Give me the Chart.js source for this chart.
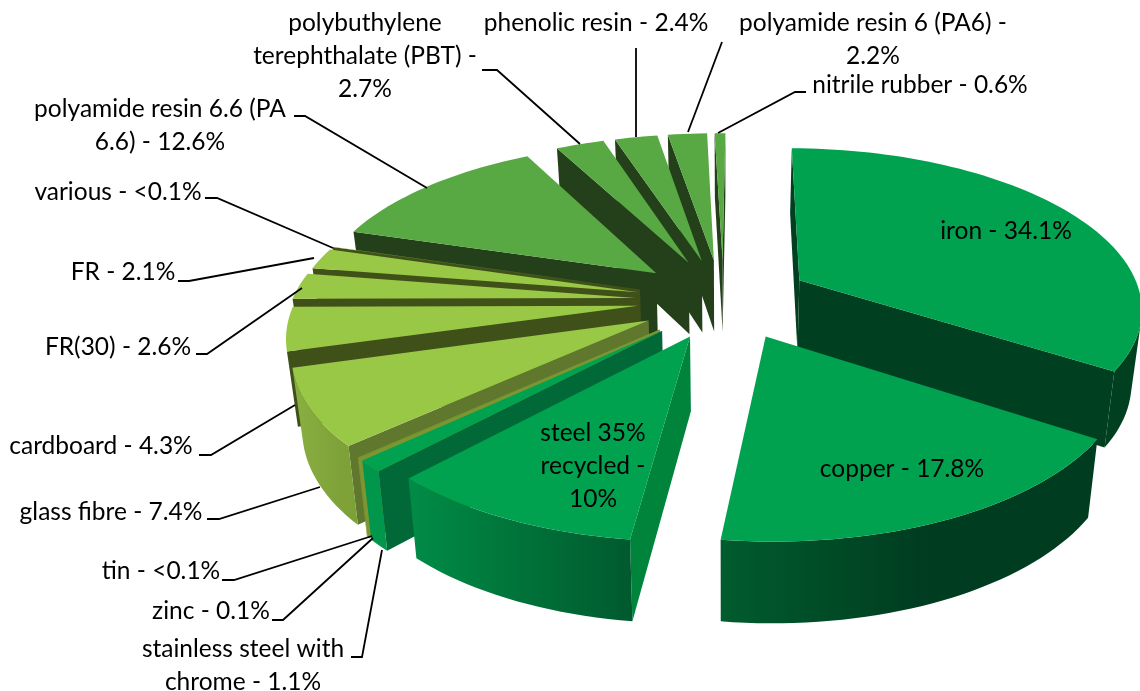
<!DOCTYPE html>
<html>
<head>
<meta charset="utf-8">
<title>materials</title>
<script src="https://cdn.jsdelivr.net/npm/chart.js@4"></script>
<style>
  html, body { margin: 0; padding: 0; background: #fff; }
  #wrap { width: 1140px; height: 691px; overflow: hidden; }
</style>
</head>
<body>
<div id="wrap"><canvas id="pie3d"></canvas></div>
<script>
// data, clockwise from the top. "<0.1" slices are drawn as 0.05
const materials = ['iron', 'copper', 'steel 35% recycled', 'stainless steel with chrome', 'zinc', 'tin',
  'glass fibre', 'cardboard', 'FR(30)', 'FR', 'various', 'polyamide resin 6.6 (PA 6.6)',
  'polybuthylene terephthalate (PBT)', 'phenolic resin', 'polyamide resin 6 (PA6)', 'nitrile rubber'];
const shares = [34.1, 17.8, 10, 1.1, 0.1, 0.05, 7.4, 4.3, 2.6, 2.1, 0.05, 12.6, 2.7, 2.4, 2.2, 0.6];

// explosion of each slice
const explode = [66, 64, 64, 66, 66, 66, 68, 66, 66, 66, 66, 66, 64, 64, 64, 64];
const nudgeU = [0, 0.012, 0.005, 0, 0, 0, 0.008, -0.003, -0.012, -0.01, -0.01, -0.012, -0.015, -0.012, -0.01, -0.005];
const nudgeV = [0.01, 0.02, 0.02, 0.03, 0.03, 0.03, 0.02, 0.02, 0.025, 0.025, 0.025, 0.005, 0, 0, 0, 0];

// colours
const GREEN = 'rgb(0,162,80)', MOSS = 'rgb(88,168,67)', LIME = 'rgb(153,200,70)';
const topColors = [GREEN, GREEN, GREEN, GREEN, 'rgb(125,150,50)', 'rgb(125,150,50)', LIME, LIME, LIME, LIME, LIME, MOSS, MOSS, MOSS, MOSS, MOSS];
const cutColors = ['rgb(0,64,32)', 'rgb(0,64,32)', 'rgb(0,132,60)', 'rgb(0,105,55)', 'rgb(125,150,50)', 'rgb(125,150,50)',
  'rgb(95,120,45)', 'rgb(64,80,25)', 'rgb(64,80,25)', 'rgb(64,80,25)', 'rgb(64,80,25)',
  'rgb(36,64,26)', 'rgb(36,64,26)', 'rgb(36,64,26)', 'rgb(36,64,26)', 'rgb(36,64,26)'];
// outer wall colour, right end and left end of what can be seen, and where the change starts
const wallFrom = ['rgb(0,64,32)', 'rgb(0,60,32)', 'rgb(0,90,46)', 'rgb(0,150,75)', 'rgb(125,150,50)', 'rgb(125,150,50)', 'rgb(125,160,55)', 'rgb(64,80,25)', 'rgb(64,80,25)', 'rgb(64,80,25)', 'rgb(64,80,25)', 'rgb(36,64,26)', 'rgb(36,64,26)', 'rgb(36,64,26)', 'rgb(36,64,26)', 'rgb(36,64,26)'];
const wallTo = ['rgb(0,64,32)', 'rgb(0,92,46)', 'rgb(0,140,70)', 'rgb(0,150,75)', 'rgb(125,150,50)', 'rgb(125,150,50)', 'rgb(138,175,65)', 'rgb(64,80,25)', 'rgb(64,80,25)', 'rgb(64,80,25)', 'rgb(64,80,25)', 'rgb(36,64,26)', 'rgb(36,64,26)', 'rgb(36,64,26)', 'rgb(36,64,26)', 'rgb(36,64,26)'];
const wallHold = [0, 0.45, 0, 0, 0, 0, 0, 0, 0, 0, 0, 0, 0, 0, 0, 0];

// labels: text lines, centre x, y of first line
const labelLines = [
  [['polybuthylene', 'terephthalate (PBT) -', '2.7%'], 365, 23],
  [['phenolic resin - 2.4%'], 596, 23],
  [['polyamide resin 6 (PA6) -', '2.2%'], 873, 23],
  [['nitrile rubber - 0.6%'], 920, 85],
  [['polyamide resin 6.6 (PA', '6.6) - 12.6%'], 160, 109],
  [['various - <0.1%'], 118, 192],
  [['FR - 2.1%'], 123, 272],
  [['FR(30) - 2.6%'], 118, 347],
  [['cardboard - 4.3%'], 101, 446],
  [['glass fibre - 7.4%'], 111, 512],
  [['tin - <0.1%'], 161, 571],
  [['zinc - 0.1%'], 211, 611],
  [['stainless steel with', 'chrome - 1.1%'], 243, 649],
  [['iron - 34.1%'], 1006, 231],
  [['copper - 17.8%'], 902, 469],
  [['steel 35%', 'recycled -', '10%'], 593, 433]
];
const leaders = [
  [[482,70], [497,70], [580,144]],
  [[636,48], [636,137]],
  [[722,42], [688,132]],
  [[806,92], [795,92], [718,133]],
  [[294,116], [305,116], [427,188]],
  [[205,198], [217,198], [333,248]],
  [[178,281], [189,281], [314,258]],
  [[196,354], [207,354], [302,288]],
  [[199,455], [211,455], [295,405]],
  [[207,519], [219,519], [320,487]],
  [[222,580], [234,580], [372,536]],
  [[272,620], [283,620], [373,538]],
  [[351,657], [362,657], [382,550]]
];

const FONT = '24.5px Lato';
const LINE_H = 33;

// view: how the flat pie is tilted
const SCALE_X = 342, SCALE_Y = 158, PERSP = 0.16;

function project(u, v, cx, cy, low) {
  var w = 1 / (1 - PERSP * v);
  var x = cx + u * SCALE_X * w;
  var y = cy + v * SCALE_Y * w;
  if (low) {
    x = cx + (x - cx) * 0.975;
    y = y + 73 + 7 * v;
  }
  return [x, y];
}

function fillPoly(ctx, pts, color) {
  ctx.beginPath();
  pts.forEach(function (p, i) { i ? ctx.lineTo(p[0], p[1]) : ctx.moveTo(p[0], p[1]); });
  ctx.closePath();
  ctx.fillStyle = color;
  ctx.fill();
}

function area(pts) {
  var s = 0;
  for (var i = 0; i < pts.length; i++) {
    var a = pts[i], b = pts[(i + 1) % pts.length];
    s += a[0] * b[1] - b[0] * a[1];
  }
  return s;
}

function drawSlice(ctx, arc, i) {
  var mid = (arc.startAngle + arc.endAngle) / 2;
  var e = arc.options.offset / arc.outerRadius;
  var ou = e * Math.cos(mid) + nudgeU[i], ov = e * Math.sin(mid) + nudgeV[i];
  var steps = Math.max(2, Math.ceil((arc.endAngle - arc.startAngle) / 0.03));
  var rim = [];
  for (var s = 0; s <= steps; s++) {
    var a = arc.startAngle + (arc.endAngle - arc.startAngle) * s / steps;
    rim.push([Math.cos(a) + ou, Math.sin(a) + ov]);
  }
  var top = function (p) { return project(p[0], p[1], arc.x, arc.y, false); };
  var low = function (p) { return project(p[0], p[1], arc.x, arc.y, true); };
  var apex = [ou, ov];

  var looksAtUs = function (p, q) { return area([top(p), top(q), low(q), low(p)]) < 0; };

  // the two cut faces
  if (looksAtUs(apex, rim[0])) fillPoly(ctx, [top(apex), top(rim[0]), low(rim[0]), low(apex)], cutColors[i]);
  if (looksAtUs(rim[steps], apex)) fillPoly(ctx, [top(rim[steps]), top(apex), low(apex), low(rim[steps])], cutColors[i]);

  // outer wall: the run of rim points that can be seen, one polygon with a gradient
  var seen = [];
  for (var k = 0; k < steps; k++) {
    if (looksAtUs(rim[k], rim[k + 1])) {
      if (!seen.length) seen.push(rim[k]);
      seen.push(rim[k + 1]);
    }
  }
  if (seen.length > 1) {
    var x0 = top(seen[0])[0], x1 = top(seen[seen.length - 1])[0];
    var grad = ctx.createLinearGradient(x0, 0, x1, 0);
    grad.addColorStop(0, wallFrom[i]);
    grad.addColorStop(wallHold[i], wallFrom[i]);
    grad.addColorStop(1, wallTo[i]);
    fillPoly(ctx, seen.map(top).concat(seen.slice().reverse().map(low)), grad);
  }

  fillPoly(ctx, [top(apex)].concat(rim.map(top)), topColors[i]);
}

const pie3dPlugin = {
  id: 'pie3d',
  beforeDatasetsDraw: function (chart) {
    var ctx = chart.ctx;
    var arcs = chart.getDatasetMeta(0).data;
    // far slices first
    var order = arcs.map(function (a, i) { return i; }).sort(function (a, b) {
      var ma = (arcs[a].startAngle + arcs[a].endAngle) / 2;
      var mb = (arcs[b].startAngle + arcs[b].endAngle) / 2;
      return Math.sin(ma) - Math.sin(mb);
    });
    ctx.save();
    order.forEach(function (i) { drawSlice(ctx, arcs[i], i); });
    ctx.restore();
    return false; // the flat pie is not drawn
  },
  afterDraw: function (chart) {
    var ctx = chart.ctx;
    ctx.save();
    ctx.strokeStyle = '#000';
    ctx.lineWidth = 1.8;
    leaders.forEach(function (line) {
      ctx.beginPath();
      line.forEach(function (p, i) { i ? ctx.lineTo(p[0], p[1]) : ctx.moveTo(p[0], p[1]); });
      ctx.stroke();
    });
    ctx.fillStyle = '#000';
    ctx.font = FONT;
    ctx.textAlign = 'center';
    ctx.textBaseline = 'middle';
    labelLines.forEach(function (l) {
      l[0].forEach(function (t, i) { ctx.fillText(t, l[1], l[2] + i * LINE_H); });
    });
    ctx.restore();
  }
};

new Chart('pie3d', {
  type: 'pie',
  data: {
    labels: materials,
    datasets: [{ data: shares, offset: explode, borderWidth: 0, backgroundColor: topColors }]
  },
  options: {
    responsive: true,
    maintainAspectRatio: false,
    animation: false,
    rotation: 0.5,
    layout: { padding: { left: 310, bottom: 97 } },
    plugins: { legend: { display: false }, tooltip: { enabled: false } }
  },
  plugins: [pie3dPlugin]
});
</script>
</body>
</html>
